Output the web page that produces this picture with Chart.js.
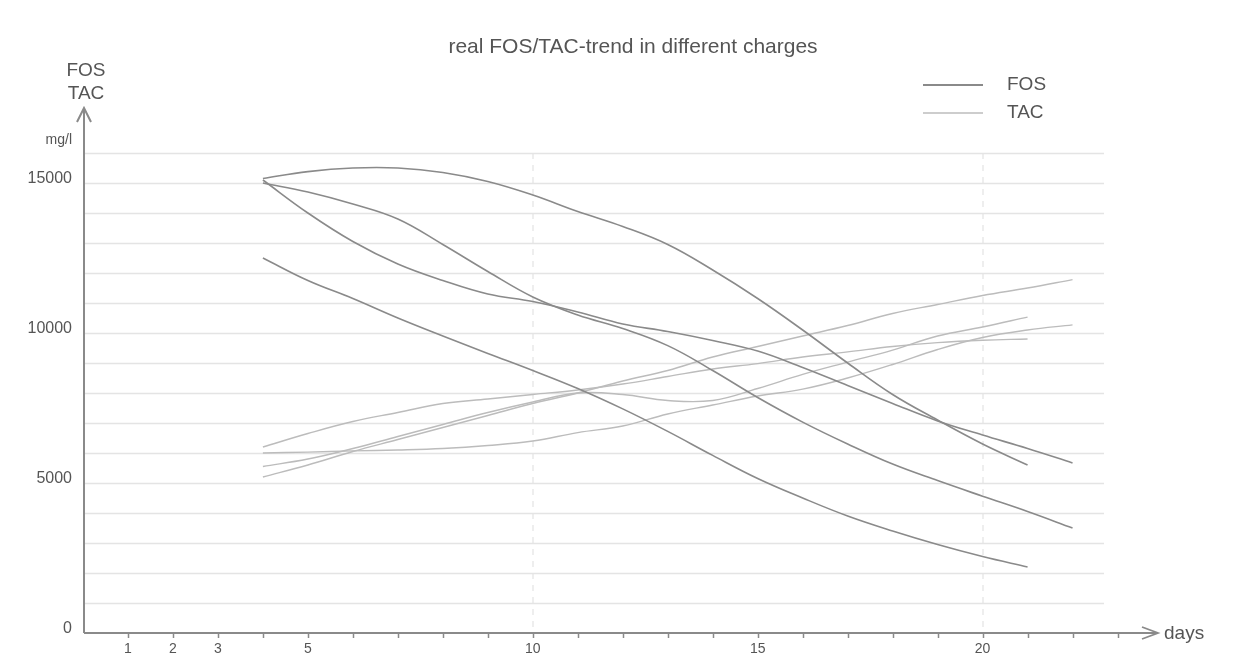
<!DOCTYPE html>
<html lang="en">
<head>
    <meta charset="UTF-8">
    <title>real FOS/TAC-trend in different charges</title>
    <script src="https://cdn.jsdelivr.net/npm/chart.js"></script>
    <style>
        html, body { margin: 0; padding: 0; background: #ffffff; }
        #chart { display: block; }
    </style>
</head>
<body>
    <canvas id="chart" width="1260" height="668"></canvas>

    <script>
        // days on which each charge was measured
        const days21 = [4, 5, 6, 7, 8, 9, 10, 11, 12, 13, 14, 15, 16, 17, 18, 19, 20, 21];
        const days22 = [4, 5, 6, 7, 8, 9, 10, 11, 12, 13, 14, 15, 16, 17, 18, 19, 20, 21, 22];

        // FOS values (mg/l), four charges
        const fos1 = [15150, 15380, 15500, 15500, 15350, 15050, 14600, 14050, 13550, 12950, 12100, 11150, 10100, 9000, 7950, 7100, 6300, 5600];
        const fos2 = [15100, 14000, 13050, 12300, 11750, 11300, 11050, 10700, 10300, 10050, 9750, 9400, 8850, 8250, 7650, 7070, 6600, 6150, 5670];
        const fos3 = [15000, 14700, 14300, 13800, 12950, 12050, 11200, 10600, 10150, 9580, 8750, 7850, 7030, 6300, 5630, 5080, 4560, 4050, 3500];
        const fos4 = [12500, 11750, 11150, 10500, 9900, 9320, 8750, 8150, 7470, 6720, 5920, 5150, 4500, 3900, 3400, 2950, 2550, 2200];

        // TAC values (mg/l), four charges
        const tac1 = [6200, 6650, 7050, 7350, 7650, 7800, 7950, 8100, 8300, 8550, 8800, 8980, 9200, 9370, 9550, 9680, 9760, 9800];
        const tac2 = [6000, 6030, 6070, 6100, 6150, 6250, 6400, 6680, 6900, 7300, 7600, 7900, 8130, 8500, 8950, 9450, 9850, 10100, 10270];
        const tac3 = [5200, 5600, 6050, 6450, 6850, 7250, 7650, 8000, 8400, 8750, 9200, 9550, 9900, 10250, 10650, 10950, 11250, 11500, 11780];
        const tac4 = [5550, 5800, 6150, 6550, 6950, 7350, 7700, 8000, 7950, 7750, 7750, 8150, 8620, 9030, 9430, 9900, 10200, 10530];

        // tick labels
        const xTickLabels = [1, 2, 3, 5, 10, 15, 20];
        const yTickLabels = [0, 5000, 10000, 15000];

        const fosColor = '#8a8a8a';
        const tacColor = '#bcbcbc';
        const textColor = '#555555';
        const fontFamily = '"Liberation Sans", Arial, sans-serif';

        function toPoints(days, values) {
            return days.map((d, i) => ({ x: d, y: values[i] }));
        }

        function series(label, days, values, color, width) {
            return {
                label: label,
                data: toPoints(days, values),
                borderColor: color,
                borderWidth: width,
                pointRadius: 0,
                fill: false,
                tension: 0.4
            };
        }

        const datasets = [
            series('FOS', days21, fos1, fosColor, 1.6),
            series('FOS', days22, fos2, fosColor, 1.6),
            series('FOS', days22, fos3, fosColor, 1.6),
            series('FOS', days21, fos4, fosColor, 1.6),
            series('TAC', days21, tac1, tacColor, 1.4),
            series('TAC', days22, tac2, tacColor, 1.4),
            series('TAC', days22, tac3, tacColor, 1.4),
            series('TAC', days21, tac4, tacColor, 1.4)
        ];

        // grid, arrows, axis captions and legend
        const decorations = {
            id: 'decorations',
            beforeDatasetsDraw(chart) {
                const ctx = chart.ctx;
                const x = chart.scales.x, y = chart.scales.y;
                const left = x.getPixelForValue(0) + 1;
                const right = x.getPixelForValue(22.7);
                ctx.save();
                // faint verticals at 10 and 20
                ctx.strokeStyle = '#eeeeee';
                ctx.lineWidth = 2;
                ctx.setLineDash([6, 6]);
                [10, 20].forEach(d => {
                    const px = Math.round(x.getPixelForValue(d));
                    ctx.beginPath();
                    ctx.moveTo(px, y.getPixelForValue(16000));
                    ctx.lineTo(px, y.getPixelForValue(0));
                    ctx.stroke();
                });
                ctx.setLineDash([]);
                // horizontal grid
                ctx.strokeStyle = '#e4e4e4';
                ctx.lineWidth = 1.5;
                for (let v = 1000; v <= 16000; v += 1000) {
                    const py = Math.round(y.getPixelForValue(v)) + 0.5;
                    ctx.beginPath();
                    ctx.moveTo(left, py);
                    ctx.lineTo(right, py);
                    ctx.stroke();
                }
                ctx.restore();
            },
            afterDraw(chart) {
                const ctx = chart.ctx;
                const x = chart.scales.x, y = chart.scales.y;
                const x0 = x.getPixelForValue(0) + 1;
                const y0 = y.getPixelForValue(0);
                ctx.save();
                ctx.strokeStyle = '#8a8a8a';
                ctx.lineWidth = 2;
                // y axis with arrow
                ctx.beginPath();
                ctx.moveTo(x0, y0);
                ctx.lineTo(x0, 108);
                ctx.moveTo(x0 - 7, 122);
                ctx.lineTo(x0, 108);
                ctx.lineTo(x0 + 7, 122);
                ctx.stroke();
                // x axis with arrow
                ctx.lineWidth = 1.8;
                ctx.beginPath();
                ctx.moveTo(x0, y0);
                ctx.lineTo(1158, y0);
                ctx.moveTo(1142, y0 - 6);
                ctx.lineTo(1158, y0);
                ctx.lineTo(1142, y0 + 6);
                ctx.stroke();
                // day tick marks
                ctx.lineWidth = 1.5;
                for (let d = 1; d <= 23; d++) {
                    const px = Math.round(x.getPixelForValue(d)) + 0.5;
                    ctx.beginPath();
                    ctx.moveTo(px, y0);
                    ctx.lineTo(px, y0 + 5);
                    ctx.stroke();
                }
                // texts
                ctx.fillStyle = textColor;
                ctx.textBaseline = 'middle';
                ctx.textAlign = 'center';
                ctx.font = '21px ' + fontFamily;
                ctx.fillText('real FOS/TAC-trend in different charges', 633, 47);
                ctx.font = '19px ' + fontFamily;
                ctx.fillText('FOS', 86, 71);
                ctx.fillText('TAC', 86, 94);
                ctx.textAlign = 'right';
                ctx.font = '14px ' + fontFamily;
                ctx.fillText('mg/l', 72, 140);
                ctx.textAlign = 'left';
                ctx.font = '19px ' + fontFamily;
                ctx.fillText('days', 1164, 634);
                // legend
                const items = [['FOS', fosColor, 2, 85], ['TAC', tacColor, 1.6, 113]];
                items.forEach(([label, color, w, ly]) => {
                    ctx.strokeStyle = color;
                    ctx.lineWidth = w;
                    ctx.beginPath();
                    ctx.moveTo(923, ly);
                    ctx.lineTo(983, ly);
                    ctx.stroke();
                    ctx.fillStyle = textColor;
                    ctx.fillText(label, 1007, ly);
                });
                ctx.restore();
            }
        };

        const config = {
            type: 'line',
            data: { datasets: datasets },
            options: {
                responsive: false,
                animation: false,
                devicePixelRatio: 1,
                layout: { padding: { left: 0, right: 120, top: 123, bottom: 0 } },
                plugins: {
                    legend: { display: false },
                    title: { display: false },
                    tooltip: { enabled: false }
                },
                scales: {
                    x: {
                        type: 'linear',
                        min: 0,
                        max: 23.5,
                        afterFit: s => { s.height = 35; },
                        grid: { display: false, drawTicks: false },
                        border: { display: false },
                        ticks: {
                            stepSize: 1,
                            maxTicksLimit: 40,
                            autoSkip: false,
                            maxRotation: 0,
                            padding: 8,
                            color: textColor,
                            font: { family: fontFamily, size: 14 },
                            callback: v => xTickLabels.includes(v) ? String(v) : ''
                        }
                    },
                    y: {
                        min: 0,
                        max: 17000,
                        afterFit: s => { s.width = 83; },
                        grid: { display: false, drawTicks: false },
                        border: { display: false },
                        ticks: {
                            stepSize: 1000,
                            maxTicksLimit: 40,
                            autoSkip: false,
                            padding: 11,
                            labelOffset: -4,
                            color: textColor,
                            font: { family: fontFamily, size: 16 },
                            callback: v => yTickLabels.includes(v) ? String(v) : ''
                        }
                    }
                }
            },
            plugins: [decorations]
        };

        new Chart(document.getElementById('chart').getContext('2d'), config);
    </script>
</body>
</html>
